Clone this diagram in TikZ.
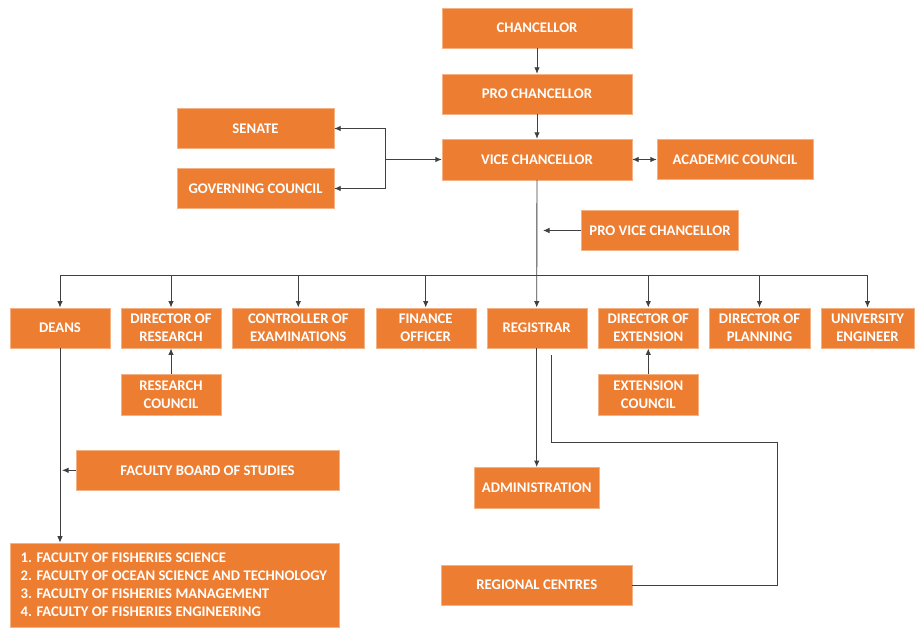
\documentclass[tikz,border=0pt]{standalone}
\usepackage{fontspec}
\setmainfont{Carlito}
\usetikzlibrary{arrows.meta}
\definecolor{boxor}{HTML}{ED7D31}
\definecolor{boxedge}{HTML}{F4B183}
\definecolor{linec}{HTML}{404040}
\tikzset{
  box/.style={fill=boxor, draw=boxedge, line width=0.4pt, text=white, font=\fontsize{14.7}{17.7}\selectfont\bfseries, align=center, inner sep=0pt},
  conn/.style={draw=linec, line width=0.9pt},
  arr/.style={conn, -{Latex[length=6.5pt,width=5.5pt]}},
  darr/.style={conn, {Latex[length=6.5pt,width=5.5pt]}-{Latex[length=6.5pt,width=5.5pt]}}
}
\begin{document}
\begin{tikzpicture}[x=1pt,y=-1pt]
\useasboundingbox (0,0) rectangle (922,634);
% top
\node[box, minimum width=190pt, minimum height=40pt] (chan) at (537,28) {CHANCELLOR};
\node[box, minimum width=190pt, minimum height=40pt] (pro) at (537,94) {PRO CHANCELLOR};
\node[box, minimum width=190pt, minimum height=41pt] (vc) at (537,159.5) {VICE CHANCELLOR};
\node[box, minimum width=157pt, minimum height=40pt] (senate) at (255.5,128.5) {SENATE};
\node[box, minimum width=157pt, minimum height=40pt] (gov) at (255.5,188.5) {GOVERNING COUNCIL};
\node[box, minimum width=156pt, minimum height=40pt] (acad) at (735,159.5) {ACADEMIC COUNCIL};
\node[box, minimum width=157pt, minimum height=40pt] (pvc) at (660,230.5) {PRO VICE CHANCELLOR};
% second row
\node[box, minimum width=100pt, minimum height=40.5pt] (deans) at (60,328) {DEANS};
\node[box, minimum width=100pt, minimum height=40.5pt] (dres) at (171,328) {DIRECTOR OF\\RESEARCH};
\node[box, minimum width=132pt, minimum height=40.5pt] (coe) at (298.3,328) {CONTROLLER OF\\EXAMINATIONS};
\node[box, minimum width=100pt, minimum height=40.5pt] (fin) at (425.7,328) {FINANCE\\OFFICER};
\node[box, minimum width=100pt, minimum height=40.5pt] (reg) at (536.7,328) {REGISTRAR};
\node[box, minimum width=99.5pt, minimum height=40.5pt] (dext) at (648.3,328) {DIRECTOR OF\\EXTENSION};
\node[box, minimum width=100.5pt, minimum height=40.5pt] (dplan) at (759.5,328) {DIRECTOR OF\\PLANNING};
\node[box, minimum width=93.5pt, minimum height=40.5pt] (ue) at (867.5,328) {UNIVERSITY\\ENGINEER};
% councils
\node[box, minimum width=100pt, minimum height=40.5pt] (rcoun) at (171,394.5) {RESEARCH\\COUNCIL};
\node[box, minimum width=99.5pt, minimum height=40.5pt] (ecoun) at (648.3,394.5) {EXTENSION\\COUNCIL};
% lower
\node[box, minimum width=263pt, minimum height=40.5pt] (fbs) at (207.5,470.3) {FACULTY BOARD OF STUDIES};
\node[box, minimum width=329pt, minimum height=84pt, anchor=north west] (fac) at (10,542.7) {};
\node[text=white, font=\fontsize{14.7}{17.7}\selectfont\bfseries, align=left, anchor=west, inner sep=0pt] (factext) at (20.5,584.7) {1. FACULTY OF FISHERIES SCIENCE\\2. FACULTY OF OCEAN SCIENCE AND TECHNOLOGY\\3. FACULTY OF FISHERIES MANAGEMENT\\4. FACULTY OF FISHERIES ENGINEERING};
\node[box, minimum width=124.7pt, minimum height=40.7pt] (admin) at (536.7,487.6) {ADMINISTRATION};
\node[box, minimum width=190.3pt, minimum height=40.3pt] (regc) at (536.8,585.2) {REGIONAL CENTRES};
% connectors top
\draw[arr] (chan) -- (pro);
\draw[arr] (pro) -- (vc);
\coordinate (br) at (385,159.5);
\draw[arr] (br) -- (vc.west);
\draw[arr] (br) |- (senate.east);
\draw[arr] (br) |- (gov.east);
\draw[darr] (vc.east) -- (acad.west);
\draw[arr] (pvc.west) -- ([xshift=6pt]pvc.west -| vc.south);
% bus
\coordinate (bus) at (537,275.7);
\draw[conn] (deans.north |- bus) -- (ue.north |- bus);
\draw[arr] (vc.south) -- (reg.north);
\foreach \n in {deans,dres,coe,fin,dext,dplan,ue}
  \draw[arr] (\n.north |- bus) -- (\n.north);
\draw[arr] (rcoun.north) -- (dres.south);
\draw[arr] (ecoun.north) -- (dext.south);
% deans
\draw[arr] (deans.south) -- (deans.south |- fac.north);
\draw[arr] (fbs.west) -- ([xshift=2pt]fbs.west -| deans.south);
% registrar
\draw[arr] (reg.south) -- (admin.north);
\coordinate (rs) at (551.7,355);
\coordinate (rcorner) at (777.5,442.7);
\draw[conn] (rs) |- (rcorner) |- (regc.east);
\end{tikzpicture}
\end{document}
